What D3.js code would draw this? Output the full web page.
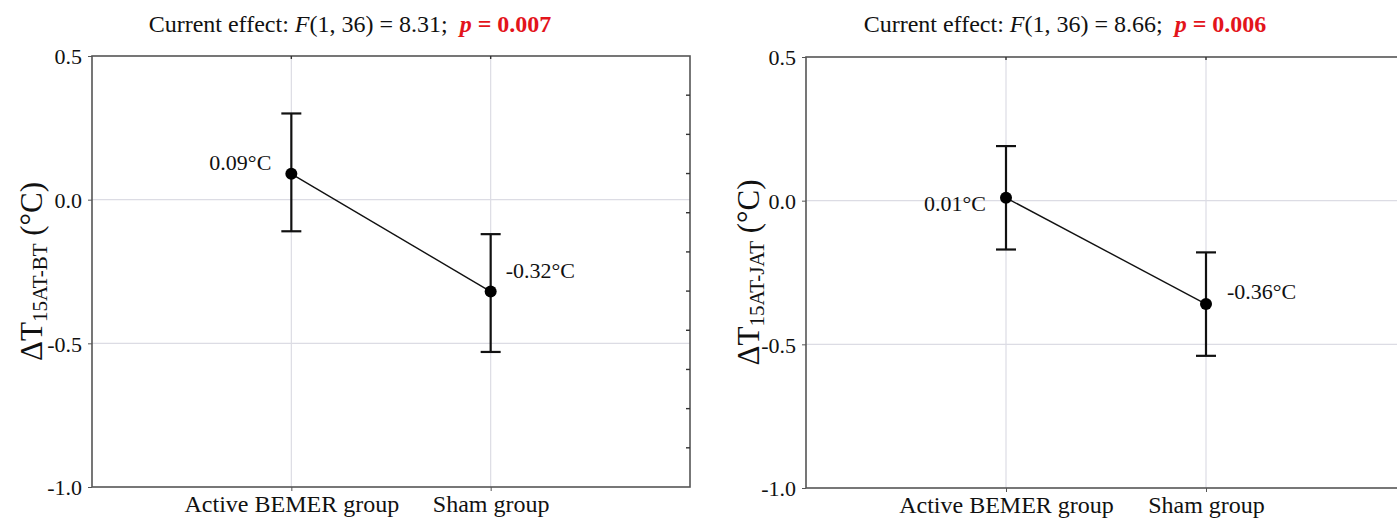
<!DOCTYPE html>
<html><head><meta charset="utf-8">
<script src="https://cdn.jsdelivr.net/npm/d3@7"></script>
<style>body{margin:0;background:#fff}svg{display:block}</style>
</head><body><svg id="c" width="1397" height="520"></svg>
<script>
// ---- data ----
const categories = ["Active BEMER group", "Sham group"];
const yTicks = [0.5, 0.0, -0.5, -1.0];
const yTickLabels = ["0.5", "0.0", "-0.5", "-1.0"];

const means1 = [0.09, -0.32];
const upper1 = [0.30, -0.12];
const lower1 = [-0.11, -0.53];
const labels1 = ["0.09°C", "-0.32°C"];
const sub1 = "15AT-BT";
const fValue1 = "8.31";
const pValue1 = "0.007";

const means2 = [0.01, -0.36];
const upper2 = [0.19, -0.18];
const lower2 = [-0.17, -0.54];
const labels2 = ["0.01°C", "-0.36°C"];
const sub2 = "15AT-JAT";
const fValue2 = "8.66";
const pValue2 = "0.006";

const svg = d3.select("#c");
const FONT = "'Liberation Serif', 'Times New Roman', serif";
svg.append("rect").attr("width",1397).attr("height",520).attr("fill","#fff");

function panel(o){
  const g = svg.append("g");
  const x = d3.scalePoint().domain(categories).range([o.x0, o.x1]).padding(1);
  const y = d3.scaleLinear().domain([-1.0, 0.5]).range([o.y1, o.y0]);

  // grid
  g.selectAll(".hg").data([0.0, -0.5]).join("line")
    .attr("x1", o.x0).attr("x2", o.x1).attr("y1", d=>y(d)).attr("y2", d=>y(d))
    .attr("stroke", "#dcdce4").attr("stroke-width", 1.2);
  g.selectAll(".vg").data(categories).join("line")
    .attr("x1", d=>x(d)).attr("x2", d=>x(d)).attr("y1", o.y0).attr("y2", o.y1)
    .attr("stroke", "#dcdce4").attr("stroke-width", 1.2);

  // frame
  g.append("rect").attr("x", o.x0).attr("y", o.y0).attr("width", o.x1-o.x0).attr("height", o.y1-o.y0)
    .attr("fill","none").attr("stroke","#555").attr("stroke-width",1.6);

  // left axis
  const ya = d3.axisLeft(y).tickValues(yTicks).tickSize(4).tickPadding(6)
    .tickFormat((d,i)=>yTickLabels[i]);
  const ag = g.append("g").attr("transform",`translate(${o.x0},0)`).call(ya);
  ag.select(".domain").remove();
  ag.selectAll("line").attr("stroke","#555");
  ag.selectAll("text").attr("font-family",FONT).attr("font-size",22).attr("fill","#111").attr("dy","0.36em");

  // bottom axis labels
  const xa = d3.axisBottom(x).tickSize(4).tickPadding(4);
  const bg = g.append("g").attr("transform",`translate(0,${o.y1})`).call(xa);
  bg.select(".domain").remove();
  bg.selectAll("line").attr("stroke","#555");
  bg.selectAll("text").attr("font-family",FONT).attr("font-size",24).attr("fill","#111");

  // right inner minor ticks (11 divisions)
  const rt = d3.range(1, 11).map(i => o.y0 + i*(o.y1-o.y0)/11);
  g.selectAll(".rt").data(rt).join("line")
    .attr("x1", o.x1-4).attr("x2", o.x1).attr("y1", d=>d).attr("y2", d=>d)
    .attr("stroke","#333").attr("stroke-width",1.4);

  // top ticks at categories
  g.selectAll(".tt").data(categories).join("line")
    .attr("x1", d=>x(d)).attr("x2", d=>x(d)).attr("y1", o.y0).attr("y2", o.y0+3)
    .attr("stroke","#333").attr("stroke-width",1.4);

  // connecting line
  const pts = categories.map((c,i)=>({c, m:o.means[i], u:o.upper[i], l:o.lower[i], lab:o.labels[i]}));
  g.append("path").datum(pts)
    .attr("d", d3.line().x(d=>x(d.c)).y(d=>y(d.m)))
    .attr("fill","none").attr("stroke","#111").attr("stroke-width",1.4);

  // error bars
  const eb = g.selectAll(".eb").data(pts).join("g");
  eb.append("line").attr("x1",d=>x(d.c)).attr("x2",d=>x(d.c)).attr("y1",d=>y(d.u)).attr("y2",d=>y(d.l))
    .attr("stroke","#111").attr("stroke-width",2.2);
  eb.append("line").attr("x1",d=>x(d.c)-10).attr("x2",d=>x(d.c)+10).attr("y1",d=>y(d.u)).attr("y2",d=>y(d.u))
    .attr("stroke","#111").attr("stroke-width",2.2);
  eb.append("line").attr("x1",d=>x(d.c)-10).attr("x2",d=>x(d.c)+10).attr("y1",d=>y(d.l)).attr("y2",d=>y(d.l))
    .attr("stroke","#111").attr("stroke-width",2.2);
  eb.append("circle").attr("cx",d=>x(d.c)).attr("cy",d=>y(d.m)).attr("r",6).attr("fill","#000");

  // value labels
  eb.append("text").attr("x",(d,i)=>x(d.c)+o.lx[i]).attr("y",(d,i)=>y(d.m)+o.ly[i])
    .attr("text-anchor",(d,i)=>i===0?"end":"start").attr("dominant-baseline","middle")
    .attr("font-family",FONT).attr("font-size",22).attr("fill","#111").text(d=>d.lab);

  // y title
  const t = g.append("text").attr("transform",`translate(${o.tx},${(o.y0+o.y1)/2}) rotate(-90)`)
    .attr("text-anchor","middle").attr("font-family",FONT).attr("fill","#111");
  t.append("tspan").attr("font-size",31).text("ΔT");
  t.append("tspan").attr("font-size",21).attr("dy",5).text(o.sub);
  t.append("tspan").attr("font-size",31).attr("dy",-5).text(" (°C)");

  // title
  const tt = g.append("text").attr("x", o.cx).attr("y", 32).attr("text-anchor","middle")
    .attr("font-family",FONT).attr("font-size",24).attr("fill","#111").attr("xml:space","preserve");
  tt.append("tspan").text("Current effect: ");
  tt.append("tspan").attr("font-style","italic").text("F");
  tt.append("tspan").text(`(1, 36) = ${o.F};  `);
  tt.append("tspan").attr("font-style","italic").attr("font-weight","bold").attr("fill","#e3141b").text("p");
  tt.append("tspan").attr("font-weight","bold").attr("fill","#e3141b").text(` = ${o.p}`);
}

panel({x0:92, x1:690, y0:56, y1:487, means:means1, upper:upper1, lower:lower1, labels:labels1,
  lx:[-20, 15], ly:[-9, -19], sub:sub1, tx:42, cx:350, F:fValue1, p:pValue1});
panel({x0:806, x1:1406, y0:57, y1:488, means:means2, upper:upper2, lower:lower2, labels:labels2,
  lx:[-20, 21], ly:[8, -10], sub:sub2, tx:759, cx:1065, F:fValue2, p:pValue2});
</script></body></html>
